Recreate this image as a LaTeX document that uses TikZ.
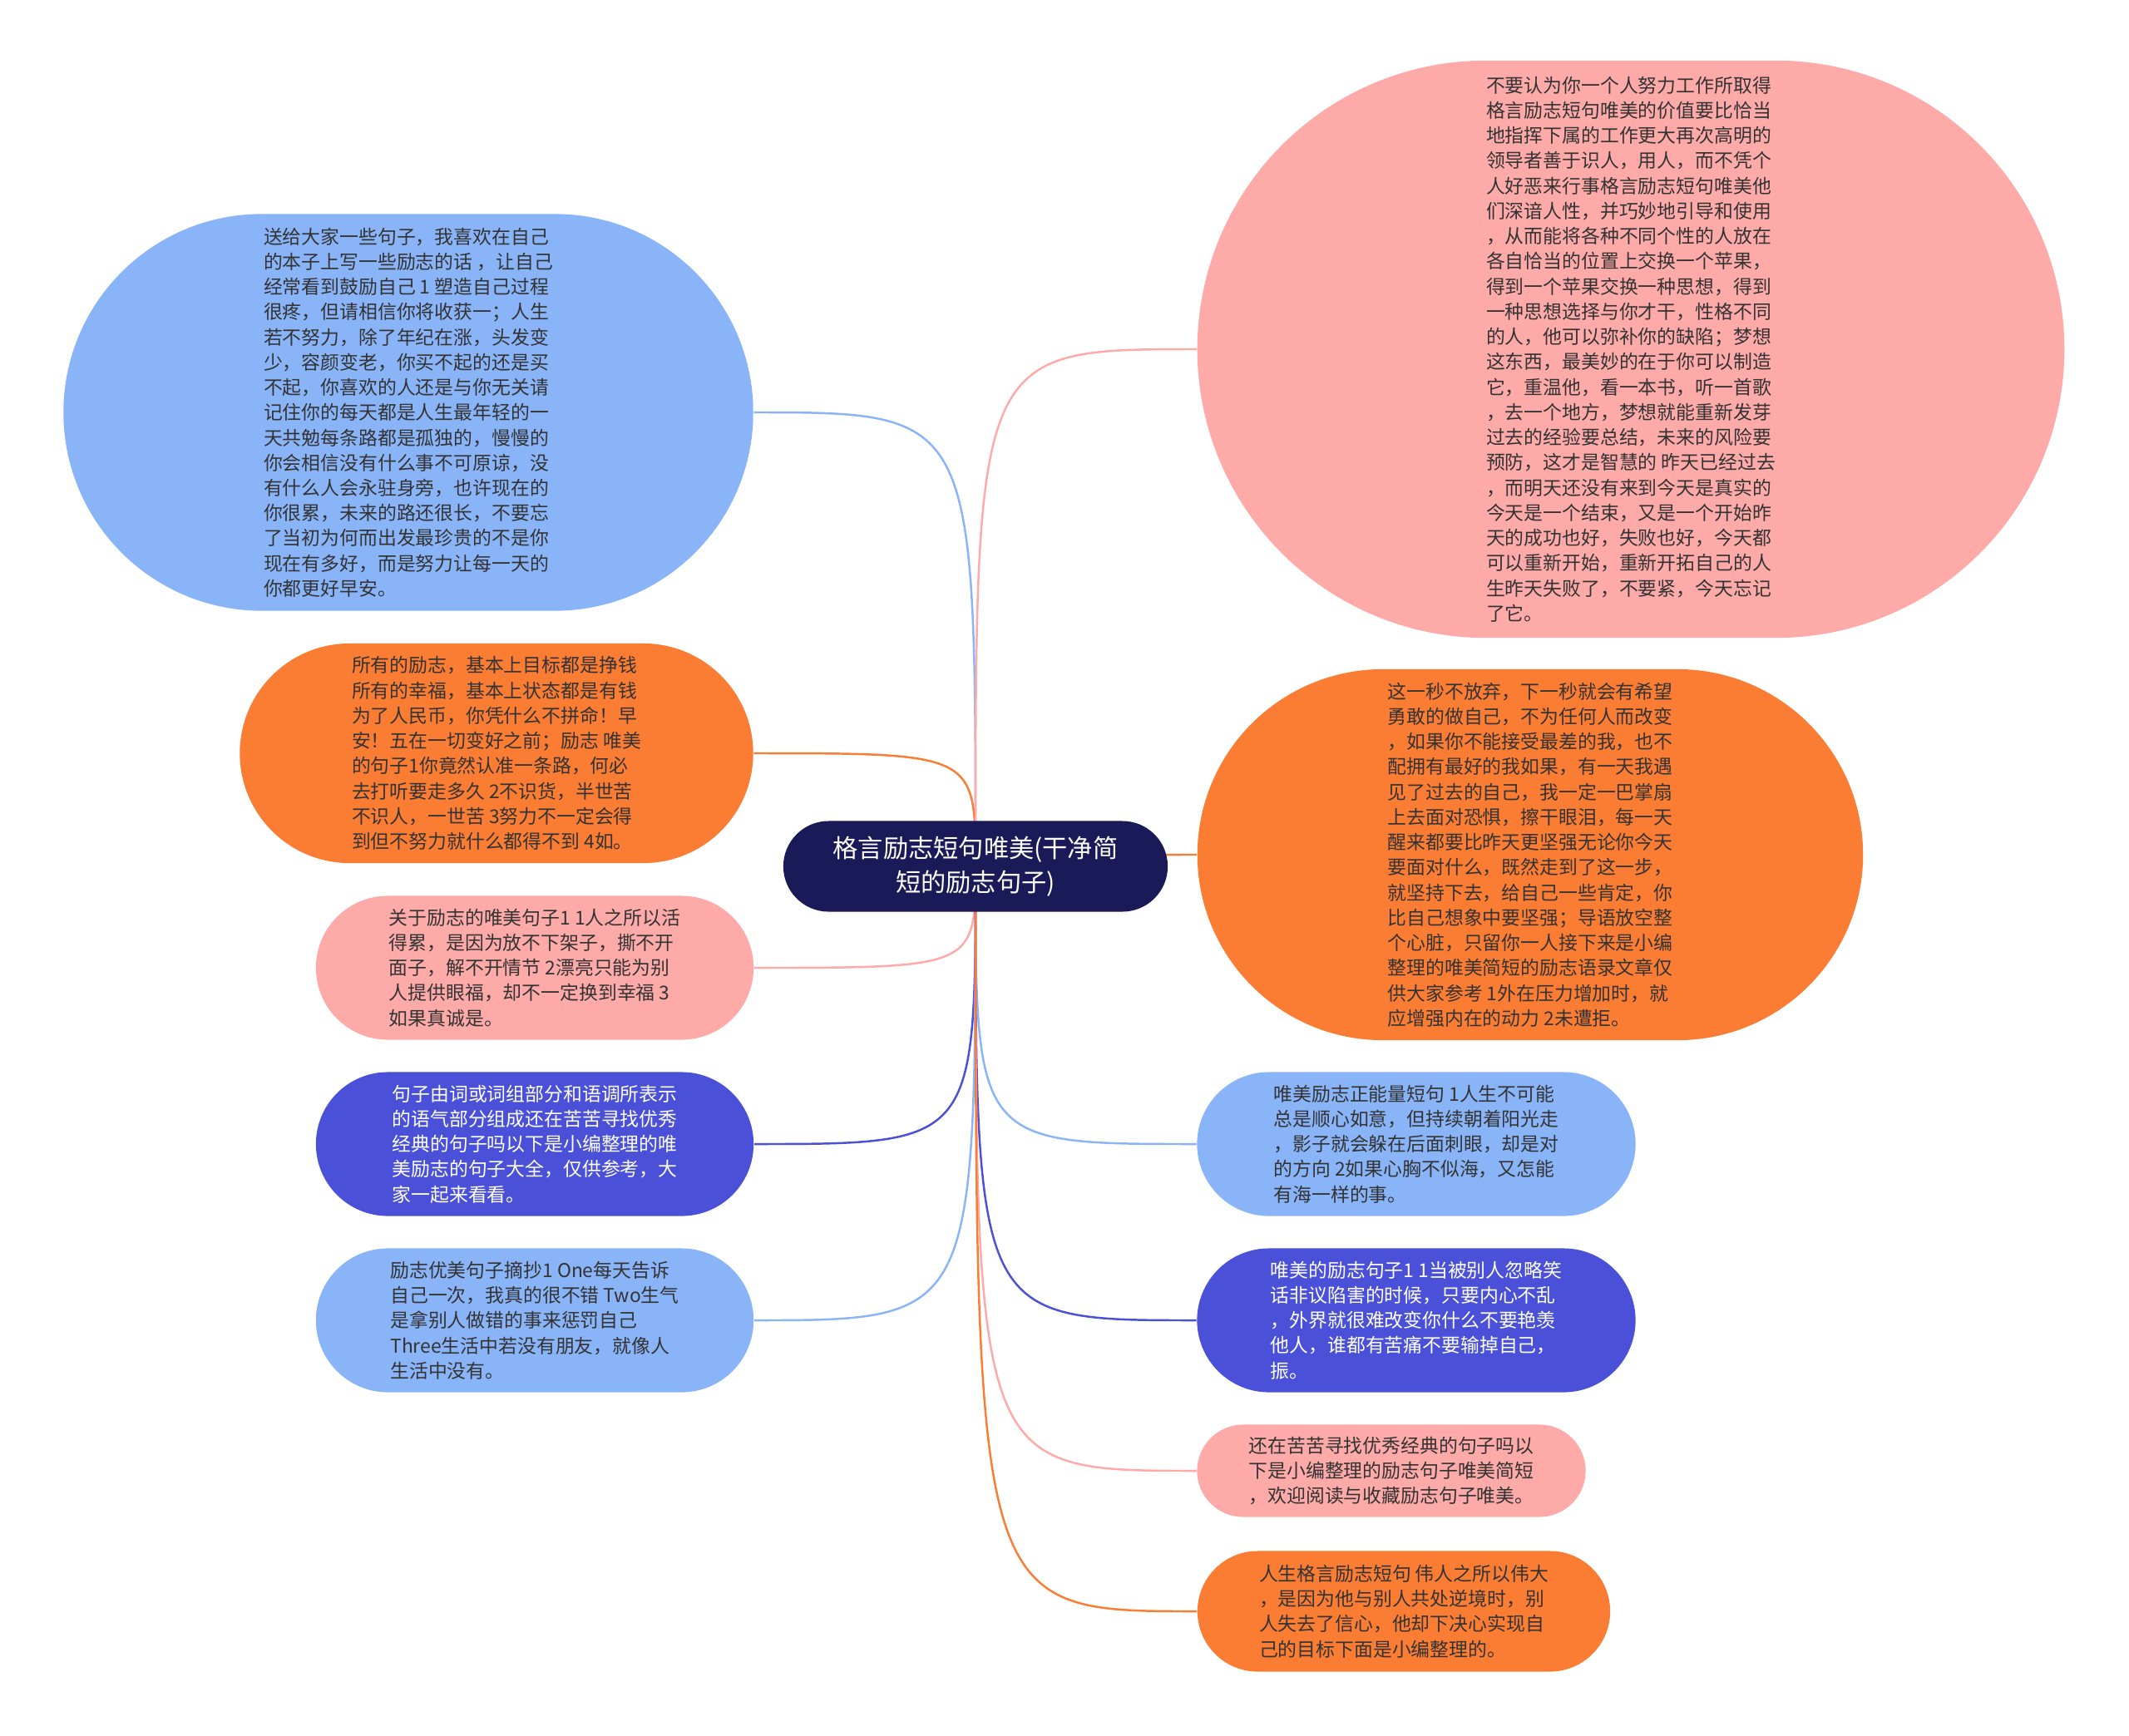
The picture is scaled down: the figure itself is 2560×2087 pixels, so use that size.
\documentclass[tikz,border=0pt]{standalone}
\usepackage{fontspec}
\setmainfont{Noto Sans CJK SC}
\usetikzlibrary{shapes.misc,backgrounds}

\definecolor{mapblue}{HTML}{8AB4F8}
\definecolor{maporange}{HTML}{FB7D33}
\definecolor{mappink}{HTML}{FDAAA9}
\definecolor{mappurple}{HTML}{4A50D8}
\definecolor{mapnavy}{HTML}{1A1A58}
\definecolor{leaftext}{HTML}{333333}

\begin{document}
\begin{tikzpicture}[x=0.01cm, y=-0.01cm,
    leaf/.style={rounded rectangle, align=left, inner sep=0pt, text=leaftext,
      font=\fontsize{6.5}{8.6}\selectfont},
    link/.style={line width=0.7pt}]
    \useasboundingbox (0,0) rectangle (2560,2087);

    \node[rounded rectangle, fill=mapnavy, text=white, align=center,
      minimum width=4.62cm, minimum height=1.09cm, inner sep=0pt,
      font=\fontsize{8.6}{11.6}\selectfont] (root) at (1173,1042)
      {格言励志短句唯美(干净简\\短的励志句子)};

    % left side
    \node[leaf, fill=mapblue, minimum width=8.29cm, minimum height=4.77cm] (blueA) at (491,496)
      {送给大家一些句子，我喜欢在自己\\的本子上写一些励志的话 ，让自己\\经常看到鼓励自己 1 塑造自己过程\\很疼，但请相信你将收获一；人生\\若不努力，除了年纪在涨，头发变\\少，容颜变老，你买不起的还是买\\不起，你喜欢的人还是与你无关请\\记住你的每天都是人生最年轻的一\\天共勉每条路都是孤独的，慢慢的\\你会相信没有什么事不可原谅，没\\有什么人会永驻身旁，也许现在的\\你很累，未来的路还很长，不要忘\\了当初为何而出发最珍贵的不是你\\现在有多好，而是努力让每一天的\\你都更好早安。};
    \node[leaf, fill=maporange, minimum width=6.17cm, minimum height=2.64cm] (orangeA) at (597,906)
      {所有的励志，基本上目标都是挣钱\\所有的幸福，基本上状态都是有钱\\为了人民币，你凭什么不拼命！早\\安！五在一切变好之前；励志 唯美\\的句子1你竟然认准一条路，何必\\去打听要走多久 2不识货，半世苦\\不识人，一世苦 3努力不一定会得\\到但不努力就什么都得不到 4如。};
    \node[leaf, fill=mappink, minimum width=5.26cm, minimum height=1.73cm] (pinkA) at (643,1164)
      {关于励志的唯美句子1 1人之所以活\\得累，是因为放不下架子，撕不开\\面子，解不开情节 2漂亮只能为别\\人提供眼福，却不一定换到幸福 3\\如果真诚是。};
    \node[leaf, fill=mappurple, text=white, minimum width=5.26cm, minimum height=1.73cm] (purpleA) at (643,1376)
      {句子由词或词组部分和语调所表示\\的语气部分组成还在苦苦寻找优秀\\经典的句子吗以下是小编整理的唯\\美励志的句子大全，仅供参考，大\\家一起来看看。};
    \node[leaf, fill=mapblue, minimum width=5.26cm, minimum height=1.73cm] (blueB) at (643,1588)
      {励志优美句子摘抄1 One每天告诉\\自己一次，我真的很不错 Two生气\\是拿别人做错的事来惩罚自己\\Three生活中若没有朋友，就像人\\生活中没有。};

    % right side
    \node[leaf, fill=mappink, minimum width=10.42cm, minimum height=6.94cm] (pinkB) at (1961,420)
      {不要认为你一个人努力工作所取得\\格言励志短句唯美的价值要比恰当\\地指挥下属的工作更大再次高明的\\领导者善于识人，用人，而不凭个\\人好恶来行事格言励志短句唯美他\\们深谙人性，并巧妙地引导和使用\\，从而能将各种不同个性的人放在\\各自恰当的位置上交换一个苹果，\\得到一个苹果交换一种思想，得到\\一种思想选择与你才干，性格不同\\的人，他可以弥补你的缺陷；梦想\\这东西，最美妙的在于你可以制造\\它，重温他，看一本书，听一首歌\\，去一个地方，梦想就能重新发芽\\过去的经验要总结，未来的风险要\\预防，这才是智慧的 昨天已经过去\\，而明天还没有来到今天是真实的\\今天是一个结束，又是一个开始昨\\天的成功也好，失败也好，今天都\\可以重新开始，重新开拓自己的人\\生昨天失败了，不要紧，今天忘记\\了它。};
    \node[leaf, fill=maporange, minimum width=8.00cm, minimum height=4.46cm] (orangeB) at (1840,1028)
      {这一秒不放弃，下一秒就会有希望\\勇敢的做自己，不为任何人而改变\\，如果你不能接受最差的我，也不\\配拥有最好的我如果，有一天我遇\\见了过去的自己，我一定一巴掌扇\\上去面对恐惧，擦干眼泪，每一天\\醒来都要比昨天更坚强无论你今天\\要面对什么，既然走到了这一步，\\就坚持下去，给自己一些肯定，你\\比自己想象中要坚强；导语放空整\\个心脏，只留你一人接下来是小编\\整理的唯美简短的励志语录文章仅\\供大家参考 1外在压力增加时，就\\应增强内在的动力 2未遭拒。};
    \node[leaf, fill=mapblue, minimum width=5.27cm, minimum height=1.73cm] (blueC) at (1703,1376)
      {唯美励志正能量短句 1人生不可能\\总是顺心如意，但持续朝着阳光走\\，影子就会躲在后面刺眼，却是对\\的方向 2如果心胸不似海，又怎能\\有海一样的事。};
    \node[leaf, fill=mappurple, text=white, minimum width=5.27cm, minimum height=1.73cm] (purpleB) at (1703,1588)
      {唯美的励志句子1 1当被别人忽略笑\\话非议陷害的时候，只要内心不乱\\，外界就很难改变你什么不要艳羡\\他人，谁都有苦痛不要输掉自己，\\振。};
    \node[leaf, fill=mappink, minimum width=4.67cm, minimum height=1.11cm] (pinkC) at (1673,1769)
      {还在苦苦寻找优秀经典的句子吗以\\下是小编整理的励志句子唯美简短\\，欢迎阅读与收藏励志句子唯美。};
    \node[leaf, fill=maporange, minimum width=4.96cm, minimum height=1.45cm] (orangeC) at (1688,1938)
      {人生格言励志短句 伟人之所以伟大\\，是因为他与别人共处逆境时，别\\人失去了信心，他却下决心实现自\\己的目标下面是小编整理的。};

    \begin{scope}[on background layer]
      \foreach \leafnode/\col/\side in {blueA/mapblue/east, orangeA/maporange/east,
          pinkA/mappink/east, purpleA/mappurple/east, blueB/mapblue/east,
          pinkB/mappink/west, orangeB/maporange/west, blueC/mapblue/west,
          purpleB/mappurple/west, pinkC/mappink/west, orangeC/maporange/west}
        \draw[link, \col] (root.center) .. controls (root.center |- \leafnode.\side)
          .. (\leafnode.\side);
    \end{scope}
\end{tikzpicture}
\end{document}
